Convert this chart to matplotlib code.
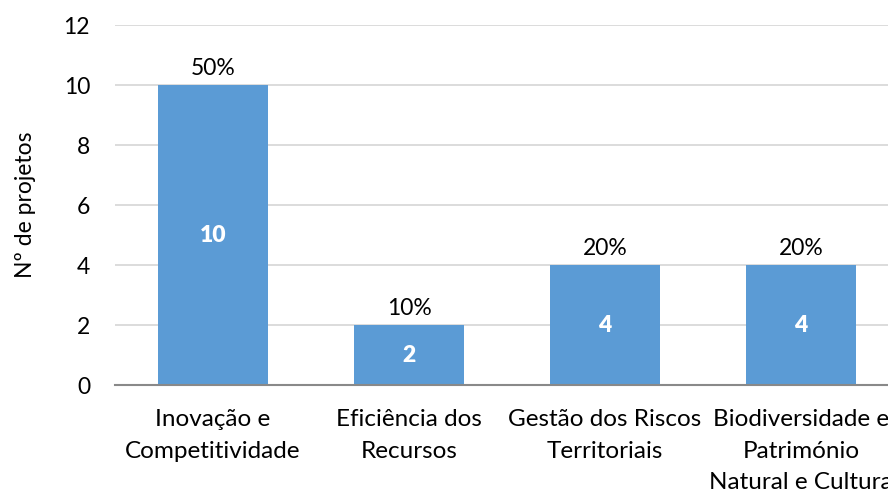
import matplotlib
matplotlib.use("Agg")
import matplotlib.pyplot as plt

categories = ["Inovação e\nCompetitividade", "Eficiência dos\nRecursos",
              "Gestão dos Riscos\nTerritoriais", "Biodiversidade e\nPatrimónio\nNatural e Cultura"]
projetos = [10, 2, 4, 4]
percentagens = ["50%", "10%", "20%", "20%"]
y_ticks = [0, 2, 4, 6, 8, 10, 12]

plt.rcParams['font.family'] = ['Lato', 'DejaVu Sans']

fig = plt.figure(figsize=(8.88, 4.93), dpi=100)
ax = fig.add_axes([115 / 888, 108 / 493, 784 / 888, 360 / 493])

x = list(range(len(categories)))
bars = ax.bar(x, projetos, width=0.565, color="#5B9BD5", zorder=3)

for rect, v, p in zip(bars, projetos, percentagens):
    cx = rect.get_x() + rect.get_width() / 2
    ax.text(cx, v / 2, str(v), ha="center", va="center", color="white",
            fontsize=16.5, fontweight="heavy", zorder=4)
    ax.annotate(p, (cx, v), xytext=(0, 4), textcoords="offset points",
                ha="center", va="bottom", fontsize=16.5)

ax.set_xlim(-0.5, len(categories) - 0.5)
ax.set_ylim(0, 12)
ax.set_yticks(y_ticks)
ax.set_xticks(x)
ax.set_xticklabels(categories, fontsize=17.5, linespacing=1.6)
ax.tick_params(axis="y", labelsize=16.5, length=0, pad=18)
ax.tick_params(axis="x", length=0, pad=17.5)
ax.grid(axis="y", color="#D9D9D9", linewidth=1.3, zorder=0)
for s in ["top", "right", "left"]:
    ax.spines[s].set_visible(False)
ax.spines["bottom"].set_color("#898989")
ax.spines["bottom"].set_linewidth(1.5)
ax.spines["bottom"].set_zorder(5)
ax.set_ylabel("Nº de projetos", fontsize=16.5, labelpad=20)

fig.savefig("out.png", dpi=100)
